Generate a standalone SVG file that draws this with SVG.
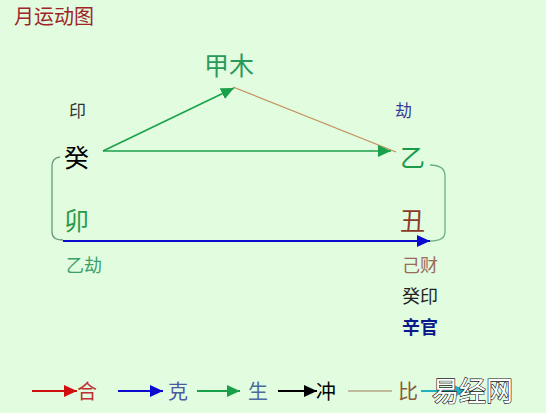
<svg xmlns="http://www.w3.org/2000/svg" width="546" height="413" viewBox="0 0 546 413">
<style>
text{font-family:"Noto Sans CJK SC","Noto Sans CJK JP",sans-serif}
.big{font-size:25px}
.mid{font-size:18px}
.leg{font-size:20px}
.ln{fill:none}
</style>
<defs>
<marker id="ag" markerUnits="userSpaceOnUse" markerWidth="14" markerHeight="12" refX="13" refY="6" orient="auto"><path d="M0,0 L13,6 L0,12 Z" fill="#19a04a"/></marker>
<marker id="ab" markerUnits="userSpaceOnUse" markerWidth="14" markerHeight="12" refX="13" refY="6" orient="auto"><path d="M0,0 L13,6 L0,12 Z" fill="#0a0ad0"/></marker>
<marker id="ar" markerUnits="userSpaceOnUse" markerWidth="14" markerHeight="12" refX="13" refY="6" orient="auto"><path d="M0,0 L13,6 L0,12 Z" fill="#d01010"/></marker>
<marker id="ak" markerUnits="userSpaceOnUse" markerWidth="14" markerHeight="12" refX="13" refY="6" orient="auto"><path d="M0,0 L13,6 L0,12 Z" fill="#000"/></marker>
<marker id="ac" markerUnits="userSpaceOnUse" markerWidth="14" markerHeight="12" refX="13" refY="6" orient="auto"><path d="M0,0 L13,6 L0,12 Z" fill="#20b0c0"/></marker>
</defs>
<rect width="546" height="413" fill="#e2fce0"/>
<text x="14" y="24" style="font-size:20px" fill="#a02428">月运动图</text>

<g id="connectors">
<line x1="103" y1="151" x2="234" y2="88" stroke="#19a04a" stroke-width="1.5" marker-end="url(#ag)"/>
<line x1="233" y1="87" x2="396" y2="152" stroke="#c09058" stroke-width="1.2"/>
<line x1="103" y1="151" x2="391" y2="151" stroke="#19a04a" stroke-width="1.5" marker-end="url(#ag)"/>
<path class="ln" d="M60,157 Q52,158 52,166 L52,232 Q52,240 63,240" stroke="#6a9a80" stroke-width="1.3"/>
<path class="ln" d="M430,165 Q445,165 445,176 L445,232 Q445,241 430,241" stroke="#6ab08a" stroke-width="1.3"/>
<line x1="63" y1="241" x2="430" y2="241" stroke="#0a0ad0" stroke-width="2" marker-end="url(#ab)"/>
</g>

<g id="n-jiamu"><text x="204" y="75" class="big" fill="#2a9a5a">甲木</text></g>
<g id="n-yin"><text x="69" y="117" style="font-size:17px" fill="#333">印</text></g>
<g id="n-jie"><text x="395" y="117" style="font-size:17px" fill="#3a3a9a">劫</text></g>
<g id="n-gui"><text x="64" y="167" class="big" fill="#000">癸</text></g>
<g id="n-yi"><text x="400" y="167" class="big" fill="#1a9a4a">乙</text></g>
<g id="n-mao"><text x="64" y="230" class="big" fill="#2a9a4a">卯</text></g>
<g id="n-chou"><text x="400" y="230" class="big" fill="#8a3a2a">丑</text></g>
<g id="n-yijie"><text x="66" y="272" class="mid" fill="#3aa06a">乙劫</text></g>
<g id="n-chou-hidden">
<text x="402" y="272" class="mid" fill="#9a6a5a">己财</text>
<text x="402" y="303" class="mid" fill="#222">癸印</text>
<text x="402" y="334" class="mid" fill="#0a1a8a" font-weight="600">辛官</text>
</g>

<g id="legend">
<line x1="32" y1="391" x2="77" y2="391" stroke="#d01010" stroke-width="1.8" marker-end="url(#ar)"/>
<text x="77" y="399" class="leg" fill="#c03030">合</text>
<line x1="118" y1="391" x2="163" y2="391" stroke="#0a0ad0" stroke-width="1.8" marker-end="url(#ab)"/>
<text x="168" y="399" class="leg" fill="#4a5aa0">克</text>
<line x1="197" y1="391" x2="240" y2="391" stroke="#19a04a" stroke-width="1.8" marker-end="url(#ag)"/>
<text x="248" y="399" class="leg" fill="#4a6aa0">生</text>
<line x1="278" y1="391" x2="317" y2="391" stroke="#000" stroke-width="1.8" marker-end="url(#ak)"/>
<text x="316" y="399" class="leg" fill="#000">冲</text>
<line x1="348" y1="391" x2="392" y2="391" stroke="#a07858" stroke-width="1.2"/>
<text x="398" y="399" class="leg" fill="#8a5a3a">比</text>
<line x1="421" y1="391" x2="467" y2="391" stroke="#20b0c0" stroke-width="1.8" marker-end="url(#ac)"/>
<text x="432" y="401" style="font-size:27px" fill="#fff" stroke="#222" stroke-width="1.3" paint-order="stroke">易经网</text>
</g>
</svg>
